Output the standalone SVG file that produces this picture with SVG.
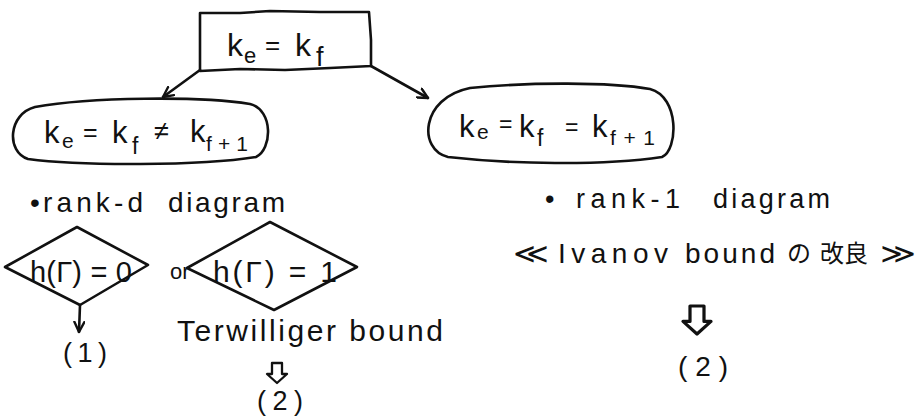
<svg xmlns="http://www.w3.org/2000/svg" width="919" height="418" viewBox="0 0 919 418">
  <style>
    .ink { fill: none; stroke: #111; stroke-width: 2.6; stroke-linejoin: round; stroke-linecap: round; }
    .t { font-family: "Liberation Sans", "DejaVu Sans", "Noto Sans CJK JP", sans-serif; fill: #111; }
    .jp { font-family: "Noto Sans CJK JP", "Noto Sans CJK SC", sans-serif; fill: #111; }
  </style>
  <defs>
    <marker id="head" viewBox="0 0 12 12" refX="11" refY="6" markerWidth="12" markerHeight="12" markerUnits="userSpaceOnUse" orient="auto">
      <path d="M1,1 L11,6 L1,11" fill="none" stroke="#111" stroke-width="2.4" stroke-linecap="round" stroke-linejoin="round"/>
    </marker>
    <path id="hollow" d="M-5,0 L5,0 L5,11 L10,11 L0,20 L-10,11 L-5,11 Z" fill="none" stroke="#111" stroke-width="2.3" stroke-linejoin="round"/>
  </defs>
  <rect width="919" height="418" fill="#fff"/>

  <!-- root condition -->
  <g id="root">
    <path class="ink" d="M200,13 L240,13 L270,11 L320,12 L369,12 L371,40 L371,66 L330,68 L285,70 L240,69 L200,71 L200,40 Z"/>
    <text class="t" font-size="32" x="227" y="56">k</text>
    <text class="t" font-size="22" x="244" y="63">e</text>
    <text class="t" font-size="26" x="265" y="54">=</text>
    <text class="t" font-size="32" x="295" y="56">k</text>
    <text class="t" font-size="27" x="316" y="66">f</text>
  </g>

  <!-- left branch -->
  <g id="case-neq">
    <path class="ink" d="M35,107 C90,97 200,96 250,104 C274,110 272,150 256,157 C200,166 80,166 28,159 C6,152 8,114 35,107 Z"/>
    <text class="t" font-size="31" x="44" y="143">k</text>
    <text class="t" font-size="21" x="62" y="148">e</text>
    <text class="t" font-size="25" x="83" y="141">=</text>
    <text class="t" font-size="31" x="112" y="143">k</text>
    <text class="t" font-size="23" x="132" y="154">f</text>
    <text class="t" font-size="27" x="154" y="140">≠</text>
    <text class="t" font-size="31" x="190" y="142">k</text>
    <text class="t" font-size="21" x="206" y="151" textLength="42" lengthAdjust="spacing">f+1</text>
  </g>

  <!-- right branch -->
  <g id="case-eq">
    <path class="ink" d="M470,88 C530,82 610,82 650,89 C680,97 678,150 662,157 C600,166 510,164 448,157 C418,150 420,98 470,88 Z"/>
    <text class="t" font-size="31" x="459" y="137">k</text>
    <text class="t" font-size="21" x="477" y="139">e</text>
    <text class="t" font-size="23" x="499" y="132">=</text>
    <text class="t" font-size="31" x="519" y="137">k</text>
    <text class="t" font-size="23" x="537" y="146">f</text>
    <text class="t" font-size="23" x="565" y="135">=</text>
    <text class="t" font-size="31" x="592" y="137">k</text>
    <text class="t" font-size="21" x="610" y="145" textLength="45" lengthAdjust="spacing">f+1</text>
  </g>

  <!-- notes under the branches -->
  <g id="rank-d">
    <text class="t" font-size="28" y="212"><tspan x="30">•</tspan><tspan x="43" textLength="100" lengthAdjust="spacing">rank-d</tspan><tspan x="168" textLength="117" lengthAdjust="spacing">diagram</tspan></text>
  </g>
  <g id="rank-1">
    <text class="t" font-size="27" y="208"><tspan x="545">•</tspan><tspan x="576" textLength="104" lengthAdjust="spacing">rank-1</tspan><tspan x="713" textLength="117" lengthAdjust="spacing">diagram</tspan></text>
  </g>

  <g id="head-0">
    <path class="ink" d="M5,267 L77,227 L148,265 L80,305 Z"/>
    <text class="t" font-size="29" x="30" y="282" textLength="102" lengthAdjust="spacing">h(Γ) = 0</text>
  </g>
  <text class="t" font-size="22" x="170" y="279">or</text>
  <g id="head-1">
    <path class="ink" d="M187,268 L270,222 L357,267 L274,310 Z"/>
    <text class="t" font-size="30" x="213" y="282" textLength="124" lengthAdjust="spacing">h(Γ) = 1</text>
  </g>

  <g id="result-1">
    <text class="t" font-size="27" x="63" y="362" textLength="44" lengthAdjust="spacing">(1)</text>
  </g>
  <g id="terwilliger">
    <text class="t" font-size="30" x="177" y="341" textLength="266" lengthAdjust="spacing">Terwilliger bound</text>
  </g>
  <g id="result-2-left">
    <text class="t" font-size="27" x="257" y="410" textLength="46" lengthAdjust="spacing">(2)</text>
  </g>

  <g id="ivanov">
    <text class="t" font-size="28" y="263"><tspan x="513" textLength="36" lengthAdjust="spacingAndGlyphs">≪</tspan><tspan x="558" textLength="110" lengthAdjust="spacing">Ivanov</tspan><tspan x="685" textLength="90" lengthAdjust="spacing">bound</tspan></text>
    <text class="jp" font-size="24" y="262"><tspan x="787">の</tspan><tspan x="820">改良</tspan></text>
    <text class="t" font-size="28" y="263" x="880" textLength="36" lengthAdjust="spacingAndGlyphs">≫</text>
  </g>
  <g id="result-2-right">
    <text class="t" font-size="28" x="678" y="376" textLength="50" lengthAdjust="spacing">(2)</text>
  </g>

  <!-- connectors -->
  <g id="connectors">
    <path class="ink" d="M200,70 L163,97" marker-end="url(#head)"/>
    <path class="ink" d="M371,66 L428,98" marker-end="url(#head)"/>
    <path class="ink" d="M80,305 L79,332" marker-end="url(#head)"/>
    <use href="#hollow" x="277" y="363"/>
    <use href="#hollow" transform="translate(697 306) scale(1.4)"/>
  </g>
</svg>
